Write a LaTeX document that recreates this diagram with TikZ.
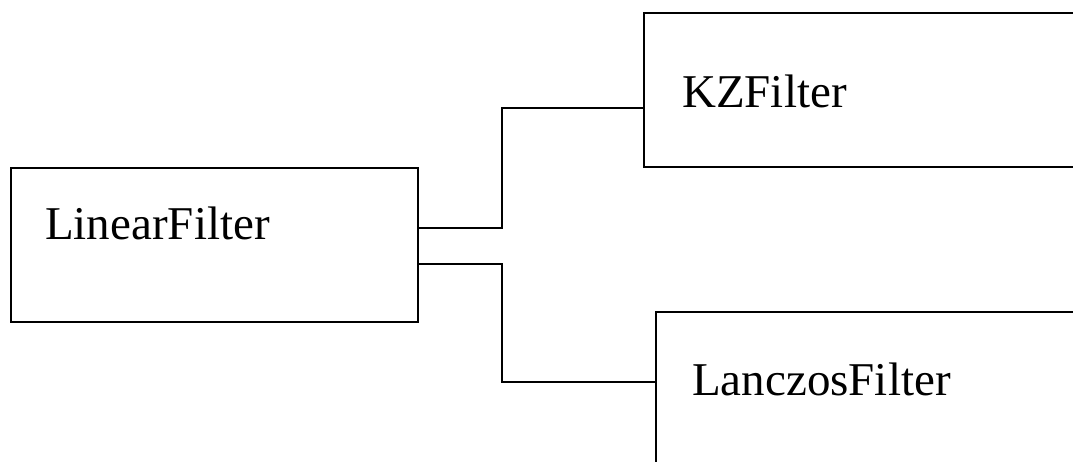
\documentclass[tikz,border=0pt]{standalone}
\usepackage{fontspec}
\setmainfont{Liberation Serif}
\usepackage{tikz}
\usetikzlibrary{positioning}
\tikzstyle{classbox}=[
        draw=black,
        line width=1.8pt,
        rectangle,
        minimum width=407pt,
        minimum height=154pt,
        inner sep=0pt
]
\tikzstyle{classname}=[
        anchor=base west,
        inner sep=0pt,
        font=\fontsize{47}{56}\selectfont
]
\tikzstyle{link}=[
        draw=black,
        line width=1.8pt
]

\begin{document}
\begin{tikzpicture}[x=1pt,y=-1pt]
                        \useasboundingbox (0,0) rectangle (1073,461);
                        \clip (0,0) rectangle (1073,461);

                        \node[classbox, anchor=north west] (linear) at (10,167) {};
                        \node[classbox, anchor=north west, minimum width=460pt] (kz) at (643,12) {};
                        \node[classbox, anchor=north west, minimum width=460pt] (lanczos) at (655,311) {};

                        \node[classname] (linearname) at (45,239) {LinearFilter};
                        \node[classname] (kzname) at (682,107) {KZFilter};
                        \node[classname] (lanczosname) at (692,395) {LanczosFilter};

                        \draw[link] ([yshift=17pt]linear.east) -- ++(83,0) |- ([yshift=-18pt]kz.west);
                        \draw[link] ([yshift=-19pt]linear.east) -- ++(83,0) |- ([yshift=7pt]lanczos.west);

                    \end{tikzpicture}
\end{document}
